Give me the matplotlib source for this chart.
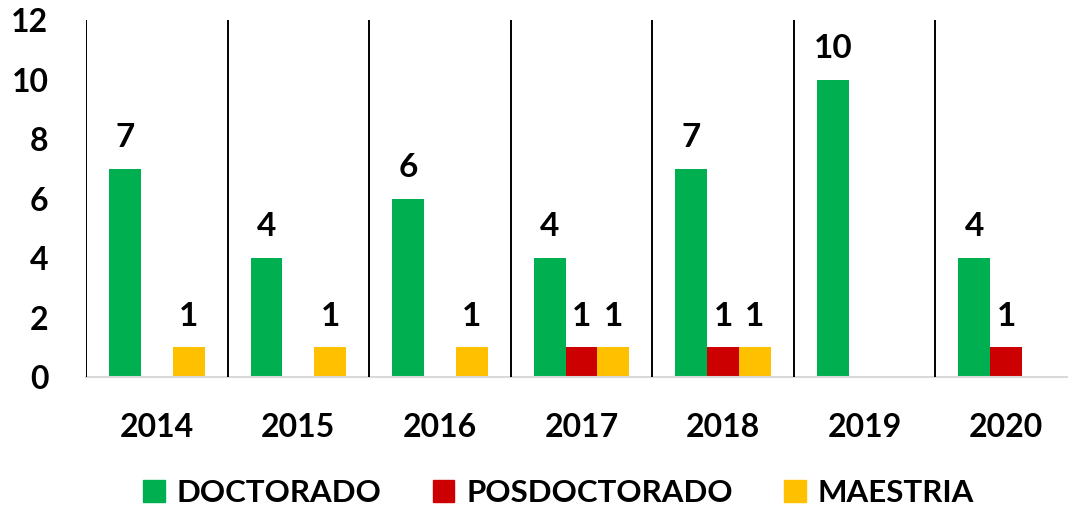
import numpy as np
import matplotlib.pyplot as plt
from matplotlib.patches import Patch

years = ['2014', '2015', '2016', '2017', '2018', '2019', '2020']
doctorado = [7, 4, 6, 4, 7, 10, 4]
posdoctorado = [0, 0, 0, 1, 1, 0, 1]
maestria = [1, 1, 1, 1, 1, 0, 0]

series = [('DOCTORADO', doctorado, '#00b050'),
          ('POSDOCTORADO', posdoctorado, '#cc0000'),
          ('MAESTRIA', maestria, '#ffc000')]

plt.rcParams['font.family'] = ['Lato', 'DejaVu Sans']
plt.rcParams['font.weight'] = 'bold'

fig = plt.figure(figsize=(10.68, 5.11), dpi=100)
ax = fig.add_axes([0.0805, 0.2622, 0.928, 0.6986])

x = np.arange(len(years))
w = 0.225
for k, (name, vals, col) in enumerate(series):
    pos = x + (k - 1) * w
    for xi, v in zip(pos, vals):
        if v > 0:
            ax.bar(xi, v, w, color=col)
            ax.annotate(str(v), (xi, v), xytext=(0, 12), textcoords='offset points',
                        ha='center', va='bottom', fontsize=24, fontweight='bold')

# separadores verticales entre años
for s in np.arange(-0.5, len(years) - 1, 1.0):
    ax.plot([s, s], [0, 12], color='black', lw=1.4, zorder=3)

ax.set_xlim(-0.5, len(years) - 0.5)
ax.set_ylim(0, 12)
ax.set_yticks(range(0, 13, 2))
ax.set_xticks(x)
ax.set_xticklabels(years)
ax.tick_params(axis='both', length=0, labelsize=23)
ax.tick_params(axis='x', pad=26)
ax.tick_params(axis='y', pad=27)
for sp in ['top', 'right', 'left']:
    ax.spines[sp].set_visible(False)
ax.spines['bottom'].set_color('#d9d9d9')
ax.spines['bottom'].set_linewidth(1.5)

handles = [Patch(color=c, label=n) for n, _, c in series]
fig.legend(handles=handles, loc='center', bbox_to_anchor=(0.523, 0.035), ncol=3,
           frameon=False, fontsize=22.5, handlelength=0.68, handleheight=0.68,
           handletextpad=0.38, columnspacing=1.65)

fig.savefig('out.png', dpi=100)
